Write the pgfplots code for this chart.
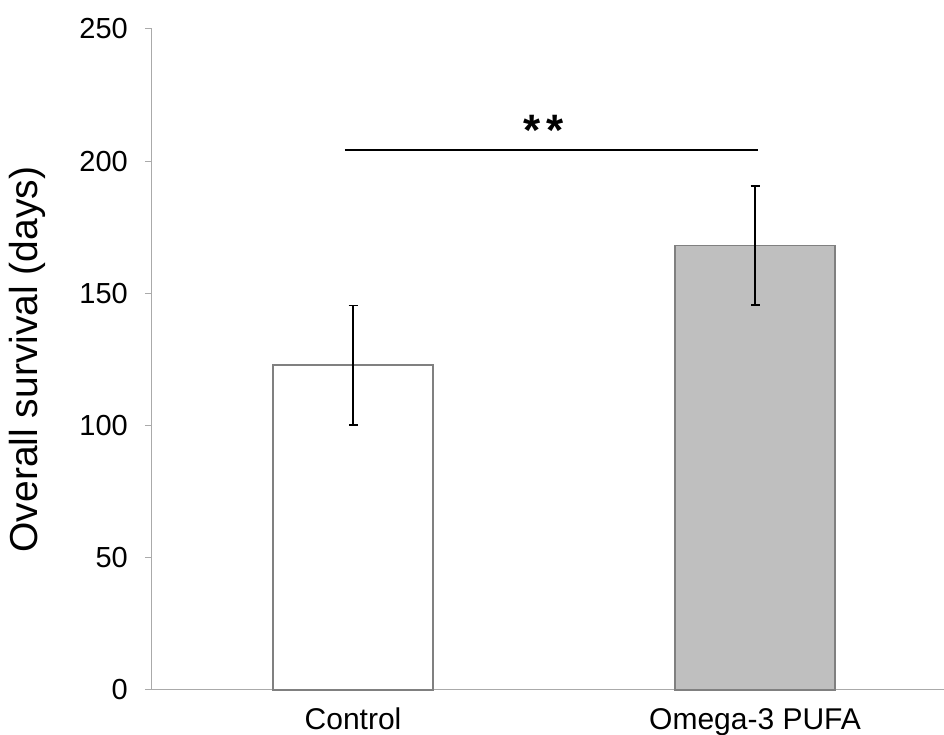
\documentclass[border=0pt]{standalone}
\usepackage{pgfplots}
\pgfplotsset{compat=1.18}
\usepackage{fontspec}
\setmainfont{Liberation Sans}
\definecolor{axgray}{RGB}{170,170,170}
\definecolor{edgegray}{RGB}{128,128,128}
\definecolor{barfill}{RGB}{191,191,191}
\begin{document}
\begin{tikzpicture}
\begin{axis}[
  name=ax,
  scale only axis,
  width=792pt, height=661pt,
  xmin=-0.5, xmax=1.47,
  ymin=0, ymax=250,
  ytick={0,50,100,150,200,250},
  xtick={0,1},
  xticklabels={Control,Omega-3 PUFA},
  axis x line=bottom, axis y line=left,
  axis line style={-, axgray, line width=1pt},
  tick align=outside,
  major tick length=7pt,
  ytick style={axgray, line width=1pt},
  xtick style={draw=none},
  /pgf/number format/assume math mode=true,
  yticklabel style={font=\fontsize{29}{34}\selectfont, anchor=east, inner sep=0pt, xshift=-17pt},
  xticklabel style={font=\fontsize{30}{36}\selectfont, anchor=base, inner sep=0pt, yshift=-32pt},
  ylabel={Overall survival (days)},
  ylabel style={font=\fontsize{39}{45}\selectfont, at={(axis description cs:-0.157,0.5)}, anchor=center, rotate=0},
  clip=false,
]
\addplot[ybar, bar width=160pt, fill=white, draw=edgegray, line width=1.3pt,
  error bars/.cd, y dir=both, y explicit,
  error bar style={line width=1.5pt, black},
  error mark options={rotate=90, mark size=4.5pt, line width=1.5pt, black}]
  coordinates {(0,122.9) +- (0,22.6)};
\addplot[ybar, bar width=160pt, fill=barfill, draw=edgegray, line width=1.3pt,
  error bars/.cd, y dir=both, y explicit,
  error bar style={line width=1.5pt, black},
  error mark options={rotate=90, mark size=4.5pt, line width=1.5pt, black}]
  coordinates {(1,168.2) +- (0,22.5)};
\addplot[black, line width=2pt, no marks] coordinates {(-0.02,204.2) (1.0075,204.2)};
\node[anchor=base, font=\fontsize{44}{50}\selectfont\bfseries, inner sep=0pt] at (axis cs:0.473,205.9) {*\hspace{6pt}*};
\end{axis}
\pgfresetboundingbox
\path ([xshift=-152pt,yshift=-45pt]ax.south west) rectangle ([yshift=29pt]ax.north east);
\end{tikzpicture}
\end{document}
